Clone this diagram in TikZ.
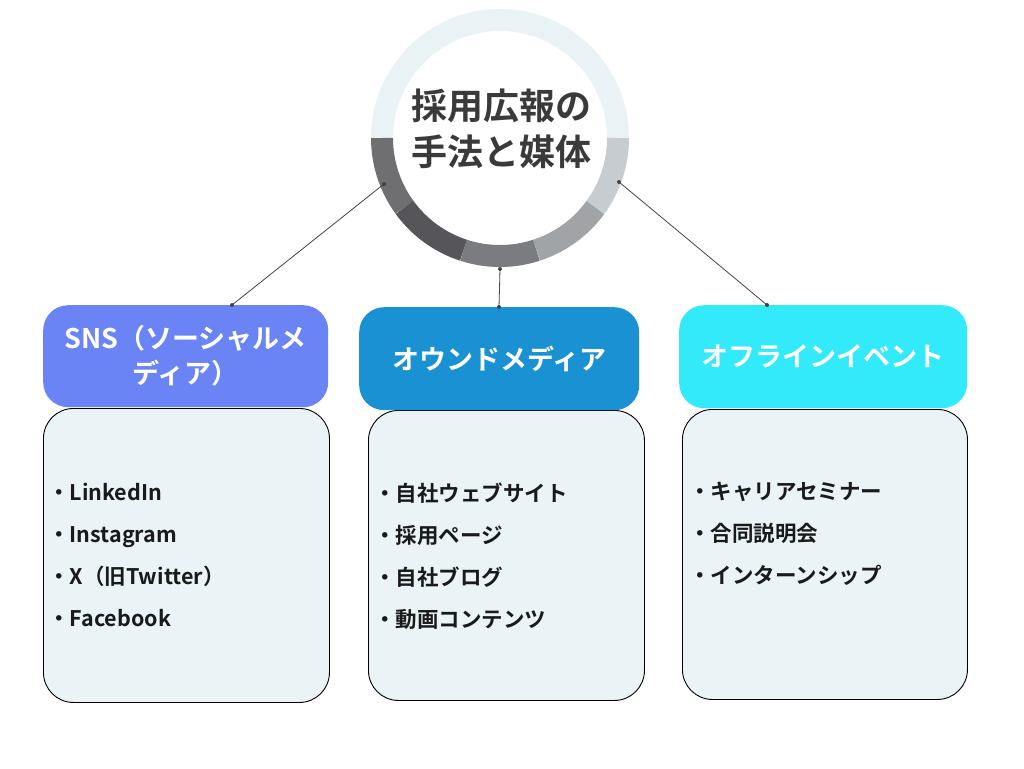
\documentclass[tikz,border=0pt]{standalone}
\usepackage{fontspec}
\setmainfont{Noto Sans CJK JP}[BoldFont={* Bold}]
\usetikzlibrary{calc}
\definecolor{ringtop}{HTML}{E9F2F5}
\definecolor{ringa}{HTML}{6F6F72}
\definecolor{ringb}{HTML}{55555A}
\definecolor{ringc}{HTML}{7B7C7F}
\definecolor{ringd}{HTML}{A0A4A7}
\definecolor{ringe}{HTML}{C6CCCF}
\definecolor{titlegray}{HTML}{3A3A3A}
\definecolor{hdrA}{HTML}{6A84F6}
\definecolor{hdrB}{HTML}{1A91D3}
\definecolor{hdrC}{HTML}{33EAFB}
\definecolor{listfill}{HTML}{EAF3F6}
\definecolor{linkgray}{HTML}{444444}
\definecolor{itemtext}{HTML}{1A1A1A}
\begin{document}
\begin{tikzpicture}[x=1pt,y=1pt,
  hdr/.style={rounded corners=25pt, inner sep=0pt, anchor=north west, text=white, align=center,
    font=\bfseries\fontsize{27}{35}\selectfont},
  listbox/.style={draw=black, line width=0.9pt, fill=listfill, rounded corners=30pt, anchor=north west, inner sep=0pt},
  item/.style={anchor=base west, inner sep=0pt, text=itemtext, font=\bfseries\fontsize{21.5}{24}\selectfont},
  link/.style={draw=linkgray, line width=0.8pt},
  dot/.style={fill=linkgray},
  seg/.style={line width=22pt}]
\useasboundingbox[fill=white] (0,0) rectangle (1024,-768);

% list boxes
\node[listbox, minimum width=286pt, minimum height=294pt] (lA) at (43,-408) {};
\node[listbox, minimum width=276pt, minimum height=290pt] (lB) at (368,-410) {};
\node[listbox, minimum width=285pt, minimum height=290pt] (lC) at (682,-409) {};

% header boxes
\node[hdr, fill=hdrA, minimum width=285pt, minimum height=102pt] (hA) at (43,-305) {SNS（ソーシャルメ\\ディア）};
\node[hdr, fill=hdrB, minimum width=280pt, minimum height=103pt] (hB) at (359,-307) {オウンドメディア};
\node[hdr, fill=hdrC, minimum width=288pt, minimum height=103pt] (hC) at (679,-305) {オフラインイベント};

% items
\node[item] (a1) at (48,-500) {・LinkedIn};
\node[item] (a2) at (48,-542) {・Instagram};
\node[item] (a3) at (48,-584) {・X（旧Twitter）};
\node[item] (a4) at (48,-626) {・Facebook};
\node[item] (b1) at (374,-501) {・自社ウェブサイト};
\node[item] (b2) at (374,-543) {・採用ページ};
\node[item] (b3) at (374,-585) {・自社ブログ};
\node[item] (b4) at (374,-627) {・動画コンテンツ};
\node[item] (c1) at (689,-499) {・キャリアセミナー};
\node[item] (c2) at (689,-541) {・合同説明会};
\node[item] (c3) at (689,-583) {・インターンシップ};

% ring
\coordinate (C) at (500,-138);
\draw[seg, ringtop] ($(C)+(0:118)$) arc[start angle=0, end angle=180, radius=118];
\draw[seg, ringa] ($(C)+(180:118)$) arc[start angle=180, end angle=216, radius=118];
\draw[seg, ringb] ($(C)+(216:118)$) arc[start angle=216, end angle=252, radius=118];
\draw[seg, ringc] ($(C)+(252:118)$) arc[start angle=252, end angle=288, radius=118];
\draw[seg, ringd] ($(C)+(288:118)$) arc[start angle=288, end angle=324, radius=118];
\draw[seg, ringe] ($(C)+(324:118)$) arc[start angle=324, end angle=360, radius=118];
\node[font=\bfseries\fontsize{36}{46}\selectfont, text=titlegray, align=center] (title) at (501,-129) {採用広報の\\手法と媒体};

% connectors
\coordinate (dA) at (384,-184);
\coordinate (dB) at (500,-269);
\coordinate (dC) at (619,-182);
\coordinate (eA) at ($(hA.north west)+(189,0)$);
\coordinate (eB) at ($(hB.north west)+(140,0)$);
\coordinate (eC) at ($(hC.north west)+(88,0)$);
\draw[link] (dA) -- (eA);
\draw[link] (dB) -- (eB);
\draw[link] (dC) -- (eC);
\foreach \p in {dA,dB,dC,eA,eB,eC} \fill[dot] (\p) circle (2pt);
\end{tikzpicture}
\end{document}
